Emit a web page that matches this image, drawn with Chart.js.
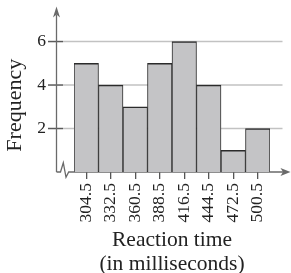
<!DOCTYPE html>
<html><head><meta charset="utf-8">
<script src="https://cdn.jsdelivr.net/npm/chart.js@4"></script>
<style>html,body{margin:0;padding:0;background:#fff;overflow:hidden}</style>
</head><body>
<canvas id="c" width="291" height="273" style="display:block;width:291px;height:273px"></canvas>
<script>
const categories = ['304.5','332.5','360.5','388.5','416.5','444.5','472.5','500.5'];
const frequencies = [5,4,3,5,6,4,1,2];
const yTickValues = [2,4,6];
const yTitle = 'Frequency';
const xTitle = ['Reaction time','(in milliseconds)'];
const yMin = 0, yMax = 6.14;

const SERIF = "'Liberation Serif','Times New Roman',serif";
const AXIS = '#6a6a6a';

function arrowHead(ctx, tx, ty, dx, dy, len, half, notch) {
  const px = -dy, py = dx;
  ctx.beginPath();
  ctx.moveTo(tx, ty);
  ctx.lineTo(tx - dx*len + px*half, ty - dy*len + py*half);
  ctx.lineTo(tx - dx*(len-notch), ty - dy*(len-notch));
  ctx.lineTo(tx - dx*len - px*half, ty - dy*len - py*half);
  ctx.closePath();
  ctx.fill();
}

const axesPlugin = {
  id: 'axesPlugin',
  beforeDatasetsDraw(chart) {
    const {ctx, chartArea: ca, scales: {y}} = chart;
    const axisX = ca.left - 17.5;
    ctx.save();
    ctx.lineWidth = 1.5;
    y.ticks.forEach(t => {
      if (!yTickValues.includes(t.value)) return;
      const py = y.getPixelForValue(t.value);
      ctx.strokeStyle = '#c2c2c2';
      ctx.beginPath(); ctx.moveTo(axisX + 6.5, py); ctx.lineTo(ca.right + 12.5, py); ctx.stroke();
      ctx.strokeStyle = '#5a5a5a';
      ctx.beginPath(); ctx.moveTo(axisX - 8.5, py); ctx.lineTo(axisX + 6.5, py); ctx.stroke();
    });
    const baseY = y.getPixelForValue(0);
    ctx.strokeStyle = AXIS; ctx.fillStyle = AXIS; ctx.lineWidth = 1.3;
    const tipY = ca.top - 32;
    ctx.beginPath(); ctx.moveTo(axisX, baseY); ctx.lineTo(axisX, tipY + 8); ctx.stroke();
    arrowHead(ctx, axisX, tipY, 0, -1, 11, 3.5, 3);
    ctx.beginPath();
    ctx.moveTo(axisX, baseY);
    ctx.lineTo(axisX + 4, baseY);
    ctx.lineTo(axisX + 6.8, baseY - 9.3);
    ctx.lineTo(axisX + 9.5, baseY + 5.3);
    ctx.lineTo(axisX + 12.2, baseY);
    ctx.lineTo(ca.right + 13, baseY);
    ctx.stroke();
    arrowHead(ctx, ca.right + 20.5, baseY, 1, 0, 10, 4, 2.5);
    ctx.restore();
  }
};

new Chart(document.getElementById('c'), {
  type: 'bar',
  data: {
    labels: categories,
    datasets: [{
      data: frequencies,
      backgroundColor: '#c4c4c6',
      borderColor: '#2b2b2b',
      borderWidth: {top: 1.6, left: 1, right: 1, bottom: 1},
      barPercentage: 1,
      categoryPercentage: 1
    }]
  },
  options: {
    responsive: false,
    animation: false,
    devicePixelRatio: 1,
    layout: {padding: {left: 0, top: 37, right: 21, bottom: 0}},
    plugins: {legend: {display: false}, tooltip: {enabled: false}},
    scales: {
      x: {
        type: 'category',
        offset: true,
        border: {display: false},
        grid: {display: true, drawOnChartArea: false, drawTicks: true, tickLength: 7, offset: false, color: '#555', lineWidth: 1.3},
        ticks: {autoSkip: false, minRotation: 90, maxRotation: 90, padding: 4, color: '#222', font: {family: SERIF, size: 17.5}},
        title: {display: true, text: xTitle, color: '#222', font: {family: SERIF, size: 21.5, lineHeight: 1.093}, padding: {top: 6.6, bottom: -3}},
        afterFit(scale) { scale.height = 101; }
      },
      y: {
        type: 'linear',
        min: yMin,
        max: yMax,
        border: {display: false},
        grid: {display: false, drawTicks: false},
        afterBuildTicks(scale) { scale.ticks = [0, ...yTickValues].map(v => ({value: v})); },
        ticks: {
          padding: 28,
          color: '#222',
          font: {family: SERIF, size: 17.5},
          callback: v => yTickValues.includes(v) ? String(v) : ''
        },
        title: {display: true, text: yTitle, color: '#222', font: {family: SERIF, size: 22, lineHeight: 1.2}, padding: {top: 2.3, bottom: 8.5}},
        afterFit(scale) { scale.width = 74; }
      }
    }
  },
  plugins: [axesPlugin]
});
</script>
</body></html>
